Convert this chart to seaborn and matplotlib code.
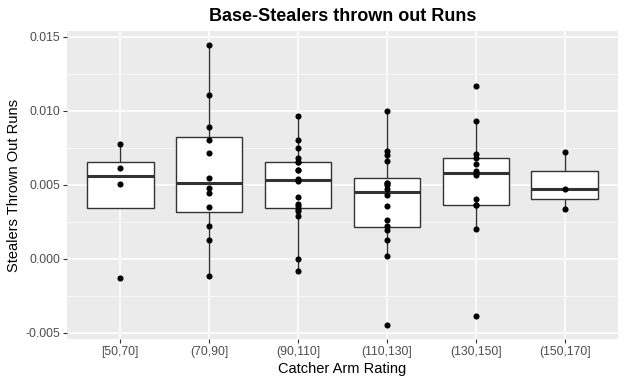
import pandas as pd
import matplotlib
matplotlib.use("Agg")
import matplotlib.pyplot as plt
import matplotlib.ticker as mticker
import seaborn as sns

# --- Data ---
arm_bins = ["[50,70]", "(70,90]", "(90,110]", "(110,130]", "(130,150]", "(150,170]"]

runs_50_70 = [0.00775, 0.00613, 0.00505, -0.00131]
runs_70_90 = [0.01444, 0.01106, 0.00890, 0.00802, 0.00714, 0.00545, 0.00478,
              0.00444, 0.00349, 0.00221, 0.00126, -0.00117]
runs_90_110 = [0.00966, 0.00804, 0.00748, 0.00680, 0.00653, 0.00653, 0.00601,
               0.00601, 0.00540, 0.00527, 0.00421, 0.00369, 0.00354, 0.00338,
               0.00320, 0.00286, 0.00000, -0.00079]
runs_110_130 = [0.01000, 0.00728, 0.00701, 0.00660, 0.00511, 0.00511, 0.00498,
                0.00471, 0.00430, 0.00356, 0.00261, 0.00221, 0.00194, 0.00126,
                0.00018, -0.00448]
runs_130_150 = [0.01167, 0.00930, 0.00707, 0.00680, 0.00640, 0.00592, 0.00579,
                0.00565, 0.00403, 0.00363, 0.00363, 0.00201, -0.00387]
runs_150_170 = [0.00723, 0.00469, 0.00338]

all_runs = [runs_50_70, runs_70_90, runs_90_110, runs_110_130, runs_130_150, runs_150_170]

df = pd.DataFrame({
    "arm": [b for b, vals in zip(arm_bins, all_runs) for _ in vals],
    "runs": [v for vals in all_runs for v in vals],
})

# --- Plot in a ggplot-like gray theme ---
sns.set_theme(style="darkgrid")
plt.rcParams["font.family"] = ["Liberation Sans", "DejaVu Sans"]

fig = plt.figure(figsize=(6.25, 3.85), dpi=100)
ax = fig.add_axes([0.107, 0.119, 0.882, 0.8])
ax.set_facecolor("#EBEBEB")

sns.boxplot(
    data=df, x="arm", y="runs", order=arm_bins, ax=ax,
    color="white", linecolor="#333333", linewidth=1.0, width=0.75,
    showfliers=False, showcaps=False, saturation=1,
    medianprops={"linewidth": 2.2, "color": "#333333"},
)
sns.stripplot(
    data=df, x="arm", y="runs", order=arm_bins, ax=ax,
    jitter=False, color="black", size=4.4, zorder=5,
)

ax.set_xlim(-0.6, 5.6)
ax.set_ylim(-0.00543, 0.01538)
ax.yaxis.set_major_locator(mticker.MultipleLocator(0.005))
ax.yaxis.set_minor_locator(mticker.MultipleLocator(0.0025))
ax.yaxis.set_major_formatter(mticker.FuncFormatter(lambda v, p: f"{v:.3f}"))

ax.grid(which="major", color="white", linewidth=1.1)
ax.grid(which="minor", axis="y", color="white", linewidth=0.5)
ax.set_axisbelow(True)
for s in ax.spines.values():
    s.set_visible(False)

ax.tick_params(axis="both", which="major", length=3, width=0.8, color="#333333",
               labelcolor="#4D4D4D", labelsize=8.8, pad=2, bottom=True, left=True)
ax.tick_params(axis="y", which="minor", length=0)

ax.set_xlabel("Catcher Arm Rating", fontsize=10.5, color="black", labelpad=3)
ax.set_ylabel("Stealers Thrown Out Runs", fontsize=10.5, color="black", labelpad=3)
ax.set_title("Base-Stealers thrown out Runs", fontsize=13, fontweight="bold",
             color="black", pad=7)

fig.savefig("out.png", dpi=100)
